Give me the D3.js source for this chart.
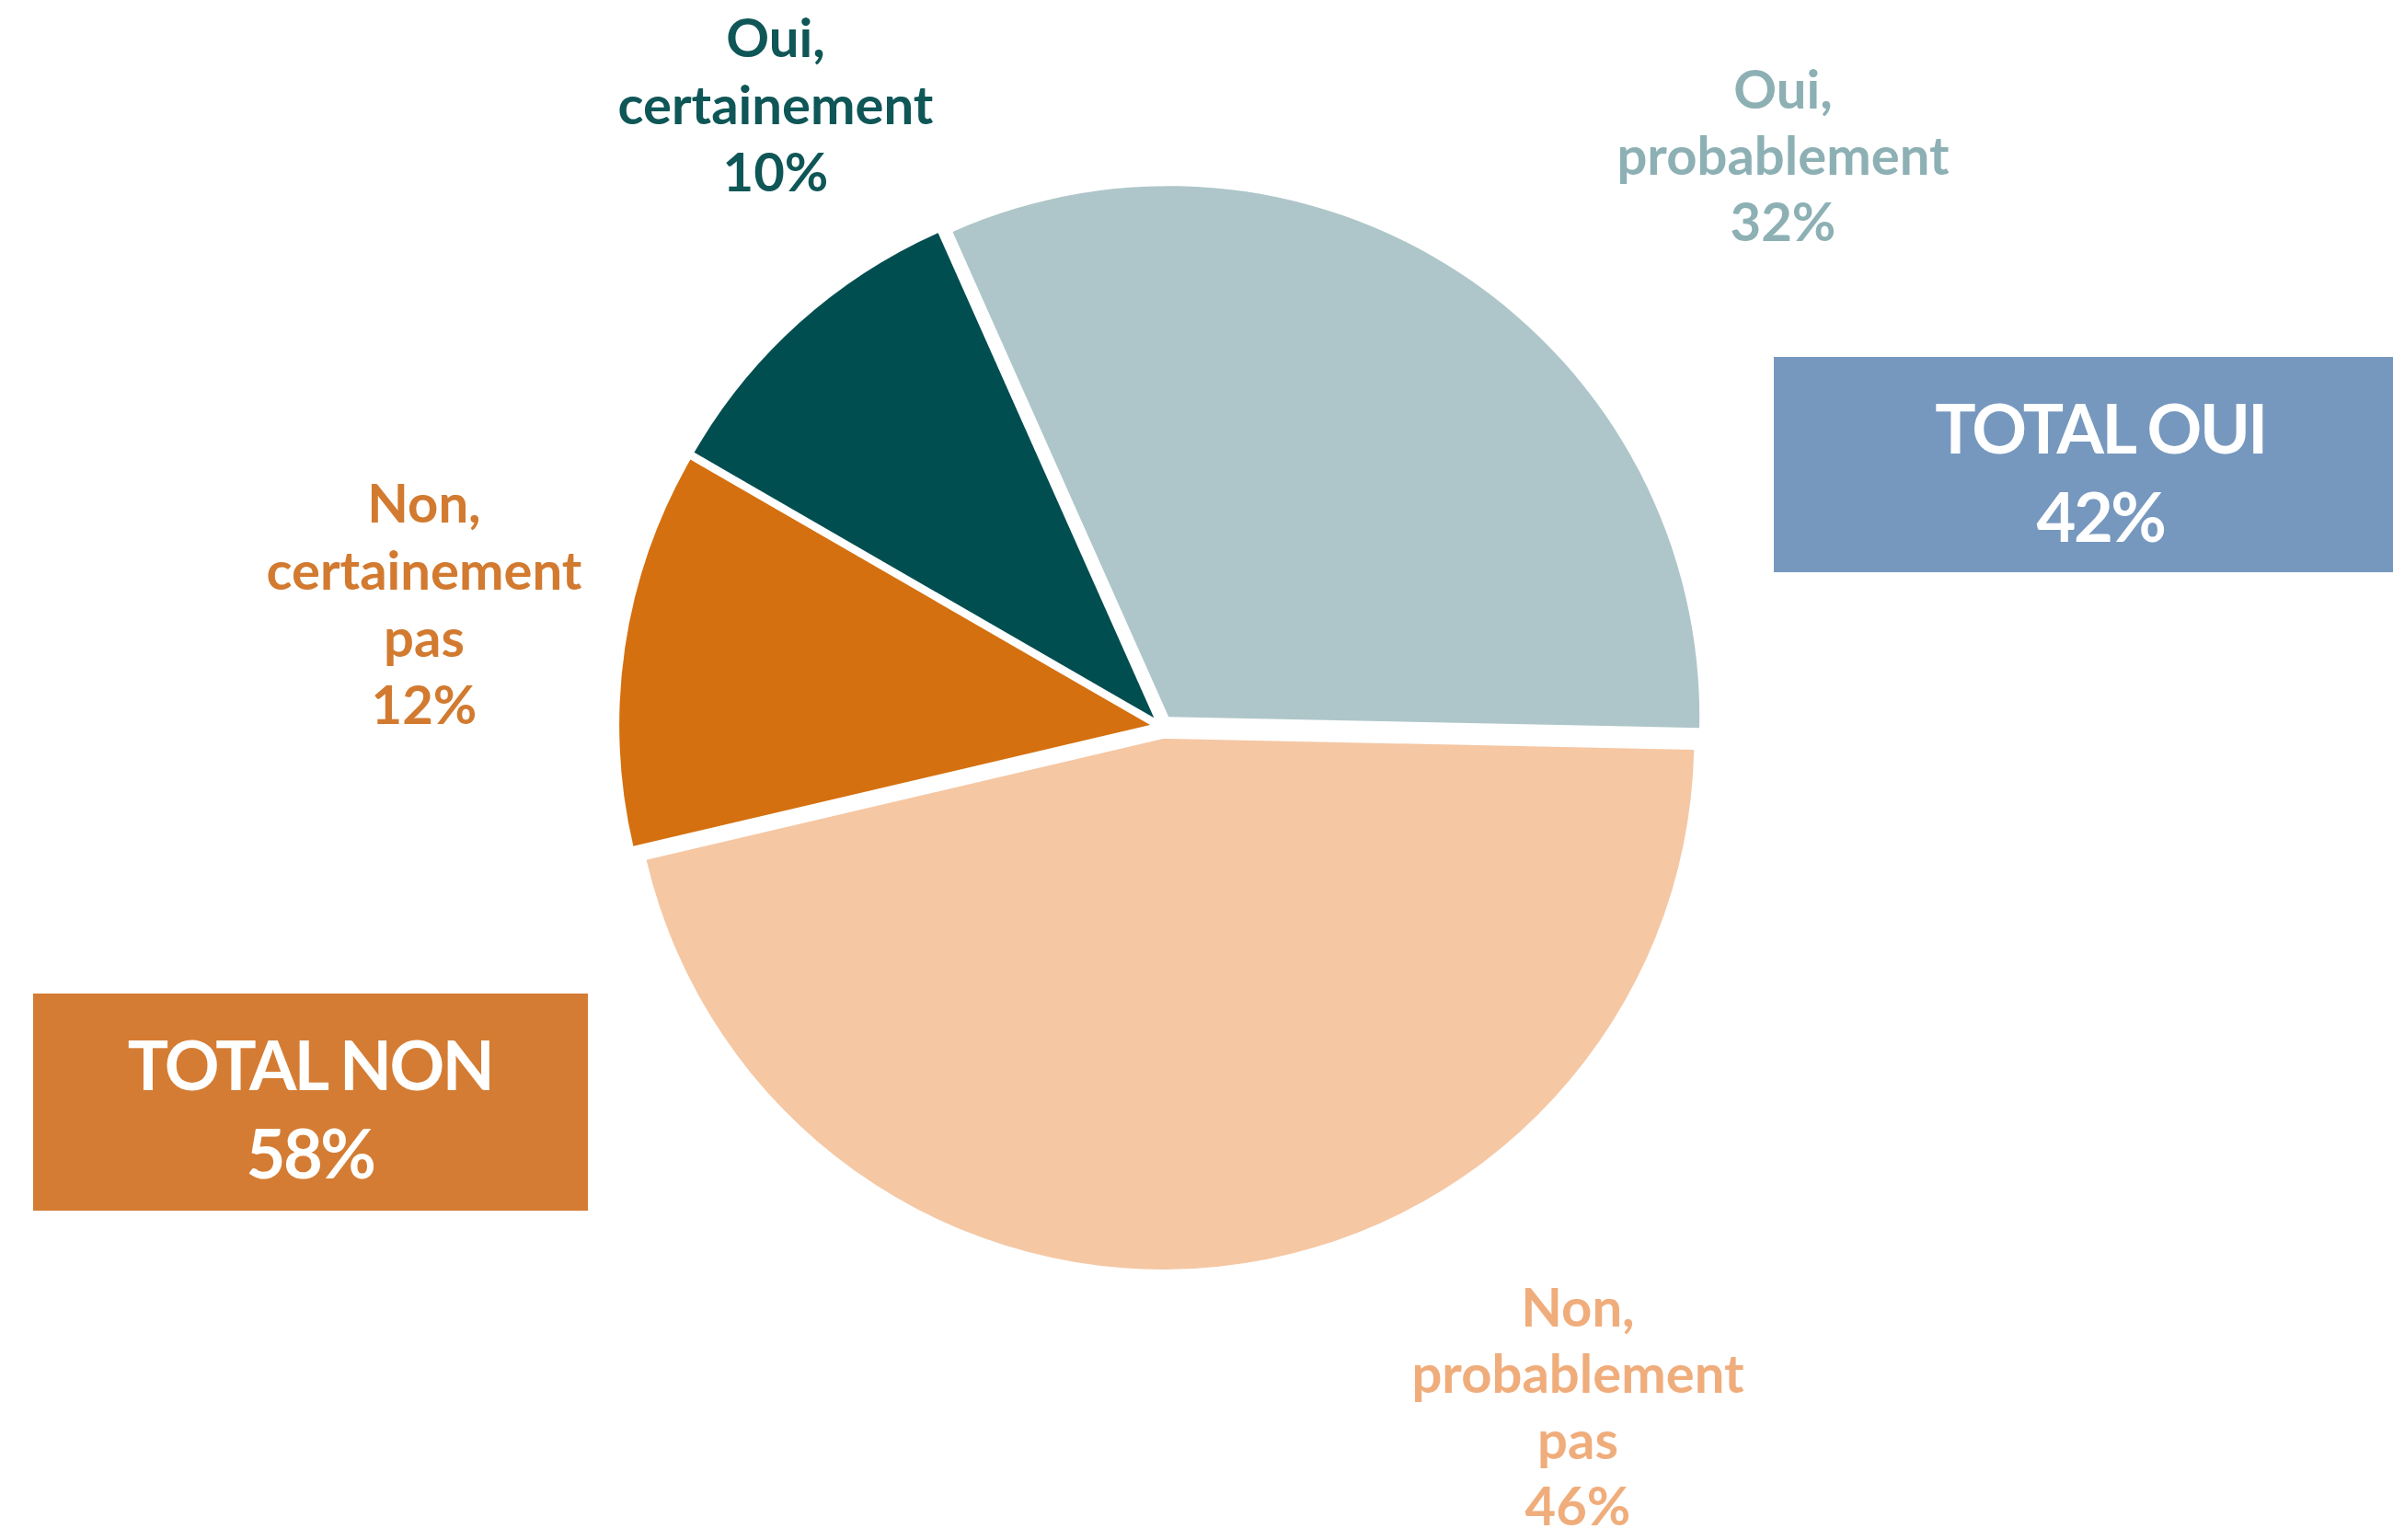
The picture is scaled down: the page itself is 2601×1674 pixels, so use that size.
<!DOCTYPE html>
<html>
<head>
<meta charset="utf-8">
<script src="https://cdn.jsdelivr.net/npm/d3@7"></script>
<style>
  html, body { margin: 0; padding: 0; background: #ffffff; }
  svg { display: block; }
  text { font-family: Lato, "Open Sans", sans-serif; font-weight: 700; }
</style>
</head>
<body>
<svg id="chart" width="2601" height="1674"></svg>
<script>
// Survey answers, in drawing order (clockwise)
const categories = ["Oui, probablement", "Non, probablement pas", "Non, certainement pas", "Oui, certainement"];
const labelLines = [
  ["Oui,", "probablement"],
  ["Non,", "probablement", "pas"],
  ["Non,", "certainement", "pas"],
  ["Oui,", "certainement"]
];
const values = [32, 46, 12, 10];

// Summary boxes
const totalLabels = ["TOTAL OUI", "TOTAL NON"];
const totalValues = [42, 58];

// Colours
const sliceColors = ["#aec6c9", "#f5c7a3", "#d4700f", "#014e50"];
const labelColors = ["#8db0b4", "#f0ad7c", "#d27a30", "#0f5657"];
const boxColors = ["#7698be", "#d47c33"];

// Layout
const W = 2601, H = 1674;
const cx = 1263, cy = 790, radius = 577, explode = 13;
const startDeg = -24;
const labelLayout = [
  { x: 1938, y: 118, lh: 72 },
  { x: 1715, y: 1442, lh: 72 },
  { x: 461, y: 568, lh: 73 },
  { x: 843, y: 62, lh: 73 }
];
const boxLayout = [
  { x: 1928, y: 388, w: 700, h: 234, tx: 2283, ty1: 493, ty2: 589 },
  { x: 36, y: 1080, w: 603, h: 236, tx: 337, ty1: 1185, ty2: 1281 }
];

const svg = d3.select("#chart");
svg.append("rect").attr("width", W).attr("height", H).attr("fill", "#ffffff");

const data = categories.map((c, i) => ({ name: c, value: values[i], i }));

const start = startDeg * Math.PI / 180;
const pie = d3.pie().sort(null).value(d => d.value)
  .startAngle(start).endAngle(start + 2 * Math.PI);
const arc = d3.arc().innerRadius(0).outerRadius(radius);

const arcs = pie(data);

// Exploded slices: each one pushed outward along its mid-angle
const g = svg.append("g").attr("transform", `translate(${cx},${cy})`);
g.selectAll("path.slice")
  .data(arcs)
  .join("path")
  .attr("class", "slice")
  .attr("d", arc)
  .attr("fill", d => sliceColors[d.data.i])
  .attr("transform", d => {
    const a = (d.startAngle + d.endAngle) / 2;
    return `translate(${explode * Math.sin(a)},${-explode * Math.cos(a)})`;
  });

// Slice labels: category lines then the percentage
const fmt = v => `${v}%`;
arcs.forEach(d => {
  const i = d.data.i;
  const L = labelLayout[i];
  const lines = labelLines[i].concat([fmt(d.data.value)]);
  const t = svg.append("text")
    .attr("text-anchor", "middle")
    .attr("fill", labelColors[i])
    .attr("font-size", 58);
  lines.forEach((ln, k) => {
    t.append("tspan").attr("x", L.x).attr("y", L.y + k * L.lh).text(ln);
  });
});

// Total boxes
totalLabels.forEach((lab, i) => {
  const B = boxLayout[i];
  svg.append("rect")
    .attr("x", B.x).attr("y", B.y).attr("width", B.w).attr("height", B.h)
    .attr("fill", boxColors[i]);
  const t = svg.append("text")
    .attr("text-anchor", "middle")
    .attr("fill", "#ffffff")
    .attr("font-size", 74)
    .attr("letter-spacing", -2.5);
  t.append("tspan").attr("x", B.tx).attr("y", B.ty1).text(lab);
  t.append("tspan").attr("x", B.tx).attr("y", B.ty2).text(fmt(totalValues[i]));
});
</script>
</body>
</html>
